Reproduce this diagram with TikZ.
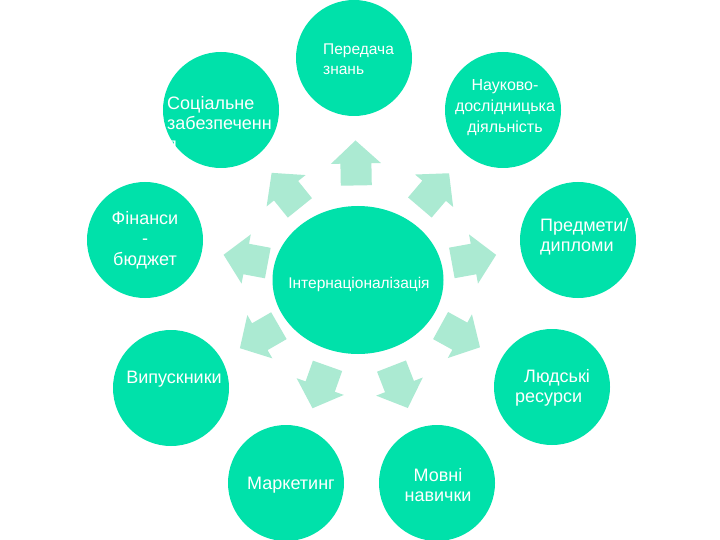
\documentclass[tikz,border=0pt]{standalone}
\usepackage{fontspec}
\setmainfont{Liberation Sans}
\usetikzlibrary{shapes.geometric}

\definecolor{bubblegreen}{RGB}{0,225,170}
\definecolor{arrowmint}{RGB}{171,234,210}

\begin{document}
\begin{tikzpicture}[
x=1pt, y=-1pt,
hub/.style={ellipse, fill=bubblegreen, minimum width=171pt, minimum height=148pt, inner sep=0pt},
bubble/.style={circle, fill=bubblegreen, minimum size=116pt, inner sep=0pt},
txt/.style={text=white, inner sep=0pt, font=\fontsize{18}{20.5}\selectfont},
smalltxt/.style={txt, font=\fontsize{15.5}{19.5}\selectfont},
pics/blockarr/.style={code={
  \fill[arrowmint] (-22,-15.5) -- (0,-15.5) -- (0,-25) -- (23,0) -- (0,25) -- (0,15.5) -- (-22,15.5) -- cycle;}}
]
\fill[white] (0,0) rectangle (720,540);
\useasboundingbox (0,0) rectangle (720,540);

% centre and the nine bubbles
\node[hub] (intl) at (358,280) {};
\node[bubble] (transfer) at (354,58) {};
\node[bubble] (social) at (221,110) {};
\node[bubble] (research) at (503,110) {};
\node[bubble] (finance) at (145,240) {};
\node[bubble] (diploma) at (578,240) {};
\node[bubble] (alumni) at (171,388) {};
\node[bubble] (staff) at (552,387) {};
\node[bubble] (marketing) at (286,483) {};
\node[bubble] (language) at (437,483) {};

% block arrows from the centre outwards
\foreach \t in {transfer, social, research, finance, diploma, alumni, staff, marketing, language}
  \path (intl.center) -- (\t.center) pic[pos=0.525, sloped, allow upside down] {blockarr};

% texts
\node[smalltxt] (intl-t) at (359,284) {Інтернаціоналізація};
\node[smalltxt, align=left, anchor=west] (transfer-t) at (323,59) {Передача\\знань};
\node[txt, align=left, anchor=west] (social-t) at (167,123) {Соціальне\\забезпеченн\\я};
\node[smalltxt, align=center, font=\fontsize{16}{21}\selectfont] (research-t) at (505,108) {Науково-\\дослідницька\\діяльність};
\node[txt, align=center] (finance-t) at (145,240) {Фінанси\\-\\бюджет};
\node[txt, align=left, anchor=west] (diploma-t) at (540,237) {Предмети/\\дипломи};
\node[txt] (alumni-t) at (174,379) {Випускники};
\node[txt, align=left, anchor=west] (staff-t) at (515,388) {\hspace*{9pt}Людські\\ресурси};
\node[txt] (marketing-t) at (291,485) {Маркетинг};
\node[txt, align=center] (language-t) at (438,485) {Мовні\\навички};
\end{tikzpicture}
\end{document}
